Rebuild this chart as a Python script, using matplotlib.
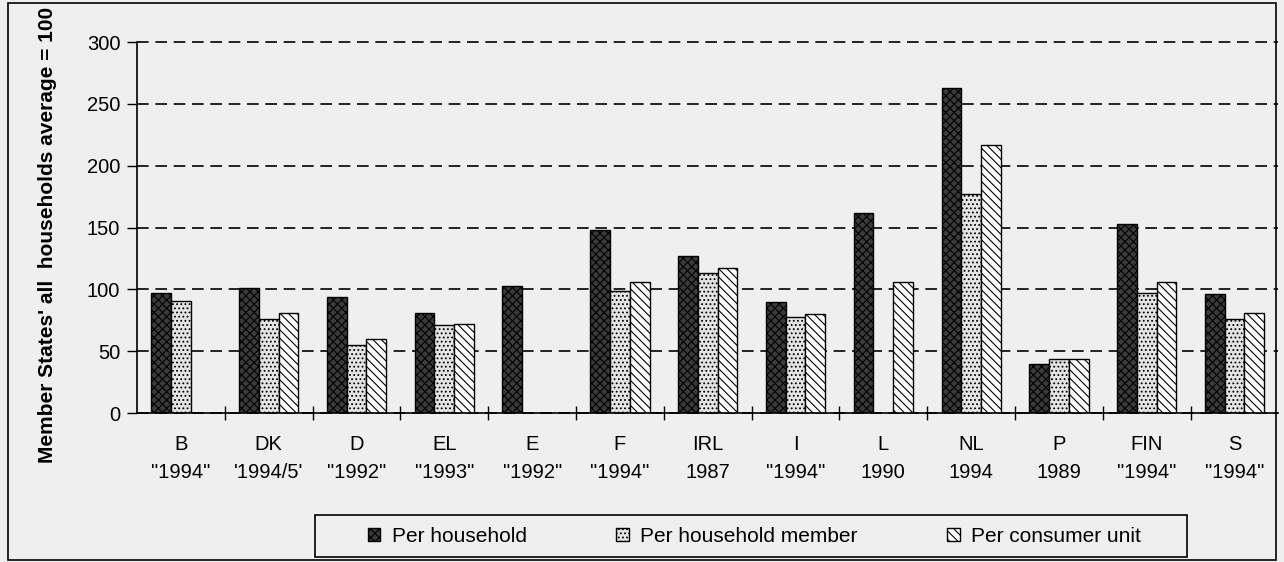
import numpy as np
import matplotlib.pyplot as plt
from matplotlib.patches import Rectangle, Patch

plt.rcParams['font.family'] = ['Liberation Sans', 'DejaVu Sans']
plt.rcParams['hatch.linewidth'] = 0.8

# data
countries = ["B", "DK", "D", "EL", "E", "F", "IRL", "I", "L", "NL", "P", "FIN", "S"]
years = ['"1994"', "'1994/5'", '"1992"', '"1993"', '"1992"', '"1994"', "1987",
         '"1994"', "1990", "1994", "1989", '"1994"', '"1994"']
per_household = [97, 101, 94, 81, 103, 148, 127, 90, 162, 263, 40, 153, 96]
per_member = [91, 76, 55, 71, np.nan, 99, 113, 78, np.nan, 177, 44, 97, 76]
per_consumer = [np.nan, 81, 60, 72, np.nan, 106, 117, 80, 106, 217, 44, 106, 81]
series_names = ["Per household", "Per household member", "Per consumer unit"]

bg = "#efefef"
fig = plt.figure(figsize=(12.84, 5.62), dpi=100, facecolor=bg)
ax = fig.add_axes([0.1067, 0.265, 0.889, 0.66], facecolor=bg)

x = np.arange(len(countries))
w = 0.225
styles = [
    dict(facecolor="#3a3a3a", hatch="xxxx", edgecolor="black"),
    dict(facecolor="#e4e4e4", hatch="....", edgecolor="black"),
    dict(facecolor="white", hatch="\\\\\\\\", edgecolor="black"),
]
handles = []
for i, (vals, st) in enumerate(zip([per_household, per_member, per_consumer], styles)):
    vals = np.array(vals, dtype=float)
    b = ax.bar(x + (i - 1) * w, np.nan_to_num(vals), w, linewidth=1.0, **st)
    for rect, v in zip(b, vals):
        if np.isnan(v):
            rect.set_visible(False)
    handles.append(Patch(linewidth=1.0, label=series_names[i], **st))

ax.set_xlim(-0.5, len(countries) - 0.5)
ax.set_ylim(0, 300)
ax.set_yticks(range(0, 301, 50))
ax.tick_params(axis="y", labelsize=14.5, direction="out", length=7, width=1, pad=5)
ax.set_xticks(x)
ax.set_xticklabels([f"{c}\n{y}" for c, y in zip(countries, years)], fontsize=14.5,
                   linespacing=1.55)
ax.set_xticks(np.arange(0.5, len(countries) - 1, 1), minor=True)
ax.tick_params(axis="x", which="major", length=0, pad=16)
ax.tick_params(axis="x", which="minor", direction="inout", length=10, width=1)

ax.yaxis.grid(True, linestyle=(0, (7, 4)), color="black", linewidth=1.2)
for gl in ax.get_ygridlines():
    gl.set_clip_on(False)
ax.set_axisbelow(True)
for s in ["top", "right"]:
    ax.spines[s].set_visible(False)
ax.spines["left"].set_linewidth(1.2)
ax.spines["bottom"].set_linewidth(1.2)

fig.text(0.037, 0.582, "Member States' all  households average = 100", rotation=90,
         ha="center", va="center", fontsize=15, fontweight="bold")

leg = fig.legend(handles=handles, loc="center", bbox_to_anchor=(0.5875, 0.046),
                 ncol=3, fontsize=15, frameon=False,
                 handlelength=0.6, handleheight=0.6, columnspacing=4.3,
                 borderpad=0, handletextpad=0.55, borderaxespad=0)

# legend box and outer frame
fig.patches.append(Rectangle((0.2453, 0.0089), 0.679, 0.0747, transform=fig.transFigure,
                             fill=False, edgecolor="black", linewidth=1.2))
fig.patches.append(Rectangle((0.006, 0.004), 0.988, 0.99, transform=fig.transFigure,
                             fill=False, edgecolor="black", linewidth=1.2))

fig.savefig("out.png", dpi=100, facecolor=bg)
